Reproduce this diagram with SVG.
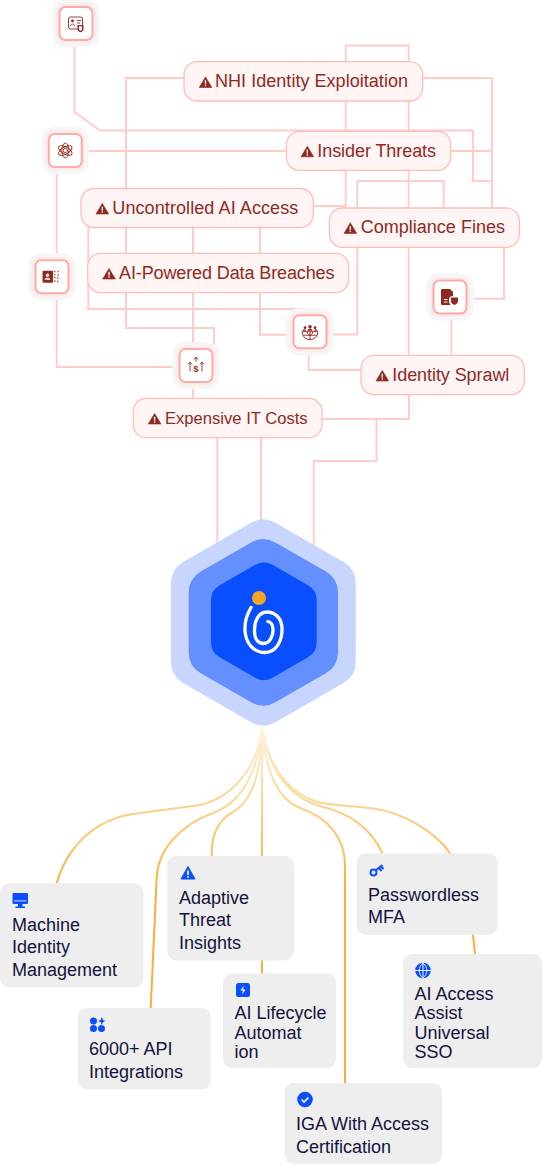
<svg xmlns="http://www.w3.org/2000/svg" width="543" height="1165" viewBox="0 0 543 1165">
<style>
.bg{fill:#fff}
.c{fill:none;stroke:#ffcccb;stroke-width:2}
.g{fill:none;stroke:url(#gold);stroke-width:2}
.pill{fill:#fff5f4;stroke:#ffbcb9;stroke-width:1.3}
.pt{font:18px "Liberation Sans",Arial,sans-serif;fill:#90291f}
.h1{fill:#f7f6f6}.h2{fill:#feecec}.h3{fill:#fff;stroke:#ffaaa7;stroke-width:2}
.card{fill:#eee}
.ct{font:18px "Liberation Sans",Arial,sans-serif;fill:#14123f}
.ic{fill:#90291f}
.il{fill:none;stroke:#90291f;stroke-width:.9}
.b{fill:#0a4fff}
.w{fill:#fff}
</style>
<defs>
<linearGradient id="gold" gradientUnits="userSpaceOnUse" x1="0" y1="727" x2="0" y2="890">
<stop offset="0" stop-color="#fff3dc"/><stop offset="1" stop-color="#f5b03c"/>
</linearGradient>
<g id="warn"><path d="M6.300 0.400 L12.700 11 L0 11 Z" fill="#90291f" stroke="#90291f" stroke-linejoin="round" stroke-width=".6"/><rect x="5.600" y="3.800" width="1.400" height="3.800" fill="#fff5f4"/><rect x="5.600" y="8.300" width="1.400" height="1.400" fill="#fff5f4"/></g>
<g id="frame"><rect class="h1" x="-23.500" y="-23.500" width="47" height="47" rx="12"/><rect class="h2" x="-20" y="-20" width="40" height="40" rx="9"/><rect class="h3" x="-16.500" y="-16.500" width="33" height="33" rx="6"/></g>
</defs>
<rect class="bg" width="543" height="1165"/>
<g id="connectors">
<path class="c" d="M74.500 47V112L100 130.500H473V181H492"/>
<path class="c" d="M423 78H492V208"/>
<path class="c" d="M451 151H492"/>
<path class="c" d="M345.700 62V45.500H408.700V62M345.700 101V208M408.700 101V355"/>
<path class="c" d="M313 206H345.700"/>
<path class="c" d="M357.300 208V181H443.700V208"/>
<path class="c" d="M357.300 247V334.500H327"/>
<path class="c" d="M504 247V298.700H474"/>
<path class="c" d="M451.300 320V355"/>
<path class="c" d="M361 370H308.700V355"/>
<path class="c" d="M409 395V419H322M376.500 419V461H313.700V560"/>
<path class="c" d="M217.300 437V560M261 437V530"/>
<path class="c" d="M193 387V398"/>
<path class="c" d="M88.700 151H286"/>
<path class="c" d="M56.700 174V253M56.700 300V367H172.700"/>
<path class="c" d="M184 78H126V188"/>
<path class="c" d="M88.300 227V309H310"/>
<path class="c" d="M126 227V253M126 293V328H214V345"/>
<path class="c" d="M193 227V253M193 293V345"/>
<path class="c" d="M260 227V253M260 293V334.700H293"/>
<path class="g" d="M262 727C258 770 230 798 200 805L133 814C95 820 68 845 56.700 883"/>
<path class="g" d="M262 727C258 775 240 803 213 813C180 825 158 850 156.700 877L150.700 1008"/>
<path class="g" d="M262 727C261 780 250 802 233 812C220 819 211 833 211.700 856"/>
<path class="g" d="M262 727V973.500"/>
<path class="g" d="M262 727C265 775 280 800 300 808C330 818 345 840 345 865V1083"/>
<path class="g" d="M262 727C268 775 295 800 323 807C350 813 372 830 382.300 853"/>
<path class="g" d="M262 727C270 775 295 795 317 802C335 806 355 806 373 808.500C405 813 435 832 450 853L473 935L475 954"/>
</g>
<g id="hub">
<path fill="#c8d6ff" d="M251.200 522.700Q263.300 515.700 275.400 522.700L343.600 562Q355.700 569 355.700 583L355.700 662Q355.700 676 343.600 683L275.400 722.300Q263.300 729.300 251.200 722.300L183.100 683Q171 676 171 662L171 583Q171 569 183.100 562Z"/>
<path fill="#648fff" d="M251.200 542.500Q263.300 535.500 275.400 542.500L325.900 571.600Q338 578.600 338 592.600L338 652.200Q338 666.200 325.900 673.200L275.400 702.300Q263.300 709.300 251.200 702.300L200.800 673.200Q188.700 666.200 188.700 652.200L188.700 592.600Q188.700 578.600 200.800 571.600Z"/>
<path fill="#0a4fff" d="M255.200 564.800Q263.850 559.800 272.500 564.800L308 585.300Q316.700 590.300 316.700 600.300L316.700 642.300Q316.700 652.300 308 657.300L272.500 677.800Q263.850 682.800 255.200 677.800L219.700 657.300Q211 652.300 211 642.300L211 600.300Q211 590.300 219.700 585.300Z"/>
<circle cx="259" cy="598" r="7" fill="#f5a623"/>
<path fill="none" stroke="#fff" stroke-width="3.300" stroke-linecap="round" d="M251 607.500C246 616 244.500 624 245 631C246 644 254 652.500 265 652.500C276 652.500 282.500 641 282 628C281.500 618 275 612 267 612C259 612 254.500 620 254.500 631C254.500 639 258 643.500 263.500 643.500C269.500 643.500 273.500 636 273 629C272.700 625 270.500 622 268 621.500"/>
</g>
<g id="n-nhi"><rect class="pill" x="184" y="61.700" width="238.700" height="39.300" rx="13"/><use href="#warn" x="199.200" y="76.500"/><text class="pt" x="215" y="87.400" textLength="193">NHI Identity Exploitation</text></g>
<g id="n-insider"><rect class="pill" x="286.400" y="131.300" width="164.300" height="39" rx="13"/><use href="#warn" x="301" y="145.800"/><text class="pt" x="317.300" y="156.700" textLength="118.700">Insider Threats</text></g>
<g id="n-uncontrolled"><rect class="pill" x="81" y="188.500" width="232.300" height="39" rx="13"/><use href="#warn" x="96" y="203"/><text class="pt" x="112.300" y="214" textLength="186">Uncontrolled AI Access</text></g>
<g id="n-compliance"><rect class="pill" x="329.400" y="208" width="190" height="39.300" rx="13"/><use href="#warn" x="344" y="222.400"/><text class="pt" x="360.700" y="233.300" textLength="144.300">Compliance Fines</text></g>
<g id="n-breaches"><rect class="pill" x="87.700" y="253.300" width="261" height="39.300" rx="13"/><use href="#warn" x="102.700" y="268"/><text class="pt" x="119" y="279" textLength="215.500">AI-Powered Data Breaches</text></g>
<g id="n-sprawl"><rect class="pill" x="361" y="355.300" width="163.300" height="39.300" rx="13"/><use href="#warn" x="376" y="370"/><text class="pt" x="392.300" y="381" textLength="117">Identity Sprawl</text></g>
<g id="n-costs"><rect class="pill" x="133.300" y="398.400" width="188.700" height="39.300" rx="13"/><use href="#warn" x="148.300" y="413"/><text class="pt" x="165" y="424" font-size="16.600" style="font-size:16.600px">Expensive IT Costs</text></g>
<g id="i-badge" transform="translate(76 23.500)"><use href="#frame"/><rect class="il" x="-7.500" y="-6.500" width="14" height="12" rx="2"/><circle class="ic" cx="-3.500" cy="-2.500" r="1.400"/><path class="il" d="M-6 2.500C-5 0-2 0-1 2.500M1-3H5M1-.5H4"/><path class="ic" d="M1.500 1.500H7.500V5.500C7.500 7.500 5.500 8.500 4.500 8.800C3.500 8.500 1.500 7.500 1.500 5.500Z"/><path fill="#fff" d="M3 2.800H6V5.500C6 6.500 5 7 4.500 7.200C4 7 3 6.500 3 5.500Z"/></g>
<g id="i-atom" transform="translate(65.300 150.500)"><use href="#frame"/><ellipse class="il" rx="7.500" ry="3.500" transform="rotate(30)"/><ellipse class="il" rx="7.500" ry="3.500" transform="rotate(-30)"/><ellipse class="il" rx="7.500" ry="3.500" transform="rotate(90)"/><circle class="il" r="2.200"/></g>
<g id="i-fade" transform="translate(52 276.700)"><use href="#frame"/><path class="ic" d="M-8.500-6H1V6H-8.500Q-9.500 6-9.500 5V-5Q-9.500-6-8.500-6Z"/><circle class="w" cx="-4.500" cy="-1.500" r="1.600"/><path class="w" d="M-7.500 3C-6.500 .5-2.500 .5-1.500 3Z"/><path class="ic" opacity=".75" d="M2-6h1.500v1.500h-1.500zM5.500-6h1.500v1.500h-1.500zM2-3h1.500v1.500h-1.500zM5.500-2.500h1.500v1.500h-1.500zM2 0h1.500v1.500h-1.500zM5 .5h1.500v1.500h-1.500zM2 3.500h1.500v1.500h-1.500zM5 4h1.500v1.500h-1.500z"/></g>
<g id="i-cost" transform="translate(196 365.500)"><use href="#frame"/><path class="il" stroke-width="1.300" d="M-6-3V6M-8-1-6-3.500-4-1M6-3V6M4-1 6-3.500 8-1M0-8V-4M-1.800-6 0-8.500 1.800-6"/><text x="-2.600" y="6" font-family="Liberation Sans,sans-serif" font-size="9" font-weight="700" fill="#90291f">$</text></g>
<g id="i-globe" transform="translate(310 331.700)"><use href="#frame"/><path class="il" d="M-8 0A8 8 0 0 0 8 0ZM-3 0A3.500 8 0 0 0 3 0M0 0V8M-7 3.500H7"/><circle class="ic" cx="0" cy="-5" r="1.800"/><circle class="ic" cx="-5" cy="-4" r="1.400"/><circle class="ic" cx="5" cy="-4" r="1.400"/><path class="ic" d="M-2.500-1C-2.500-3.500 2.500-3.500 2.500-1ZM-7.500-1C-7.500-3 -4-3 -4-1ZM4-1C4-3 7.500-3 7.500-1Z"/></g>
<g id="i-doc" transform="translate(450 297)"><use href="#frame"/><path class="ic" d="M-8-8H0L3-5V-1C0-1-1 1-1 3C-1 5-.5 7 .5 8H-8Q-9 8-9 7V-7Q-9-8-8-8Z"/><path class="w" d="M-6 2H-2.500V3H-6ZM-6 4.500H-2.500V5.500H-6Z"/><path class="ic" d="M1 .5H8V4C8 6.500 5.500 7.700 4.500 8C3.500 7.700 1 6.500 1 4Z"/></g>
<g id="c-machine"><rect class="card" x="0" y="883.300" width="143.500" height="104" rx="9"/><rect class="b" x="12.500" y="893" width="15.500" height="11" rx="1"/><rect class="w" x="14" y="900.500" width="12.500" height=".8"/><path class="b" d="M18 904H22.500V906.500H25V908H15.500V906.500H18Z"/><text class="ct" x="12" y="930.500">Machine</text><text class="ct" x="12" y="953">Identity</text><text class="ct" x="12" y="975.500">Management</text></g>
<g id="c-adaptive"><rect class="card" x="167.300" y="856" width="126.700" height="104.500" rx="9"/><path class="b" stroke="#0a4fff" stroke-linejoin="round" d="M188 866.500L195 879H181Z"/><rect class="w" x="187.200" y="870.500" width="1.600" height="4.500"/><rect class="w" x="187.200" y="876" width="1.600" height="1.600"/><text class="ct" x="179" y="903.500">Adaptive</text><text class="ct" x="179" y="926">Threat</text><text class="ct" x="179" y="948.500">Insights</text></g>
<g id="c-passwordless"><rect class="card" x="356.700" y="853.300" width="141" height="81.400" rx="9"/><circle cx="373.500" cy="872.500" r="3" fill="none" stroke="#0a4fff" stroke-width="2"/><path fill="none" stroke="#0a4fff" stroke-width="2" d="M375.500 870.500L382.500 865M379 868L381.500 871M381 866.500L383.500 869"/><text class="ct" x="368" y="900.500">Passwordless</text><text class="ct" x="368" y="923">MFA</text></g>
<g id="c-aiaccess"><rect class="card" x="403" y="954" width="139" height="114" rx="9"/><circle class="b" cx="423" cy="970.500" r="7.800"/><path fill="none" stroke="#eee" stroke-width="1" d="M415 970.500H431M423 963V978M423 963C418 967 418 974 423 978C428 974 428 967 423 963"/><text class="ct" x="414.500" y="999.500">AI Access</text><text class="ct" x="414.500" y="1019">Assist</text><text class="ct" x="414.500" y="1038.500">Universal</text><text class="ct" x="414.500" y="1058">SSO</text></g>
<g id="c-api"><rect class="card" x="77.700" y="1008" width="133.300" height="81.300" rx="9"/><circle class="b" cx="93.500" cy="1021" r="3.500"/><circle class="b" cx="93.500" cy="1028.500" r="3.500"/><circle class="b" cx="101.500" cy="1028.500" r="3.500"/><path class="b" d="M101.800 1017L103 1020 105.500 1021 103 1022 101.800 1025 100.600 1022 98 1021 100.600 1020Z"/><text class="ct" x="89" y="1055">6000+ API</text><text class="ct" x="89" y="1078">Integrations</text></g>
<g id="c-lifecycle"><rect class="card" x="223" y="973.300" width="113" height="94.700" rx="9"/><rect class="b" x="236" y="983" width="14" height="14" rx="2.500"/><path class="w" d="M243.800 985.500L240.500 990.500H243L242.200 994.500 245.500 989.500H243Z"/><text class="ct" x="234.500" y="1019">AI Lifecycle</text><text class="ct" x="234.500" y="1038.500">Automat</text><text class="ct" x="234.500" y="1058">ion</text></g>
<g id="c-iga"><rect class="card" x="284.700" y="1083" width="157.300" height="81" rx="9"/><circle class="b" cx="305" cy="1099.500" r="7.800"/><path fill="none" stroke="#fff" stroke-width="1.600" d="M301.500 1099.500L304 1102 308.500 1097.500"/><text class="ct" x="296" y="1130">IGA With Access</text><text class="ct" x="296" y="1152.500">Certification</text></g>
</svg>
